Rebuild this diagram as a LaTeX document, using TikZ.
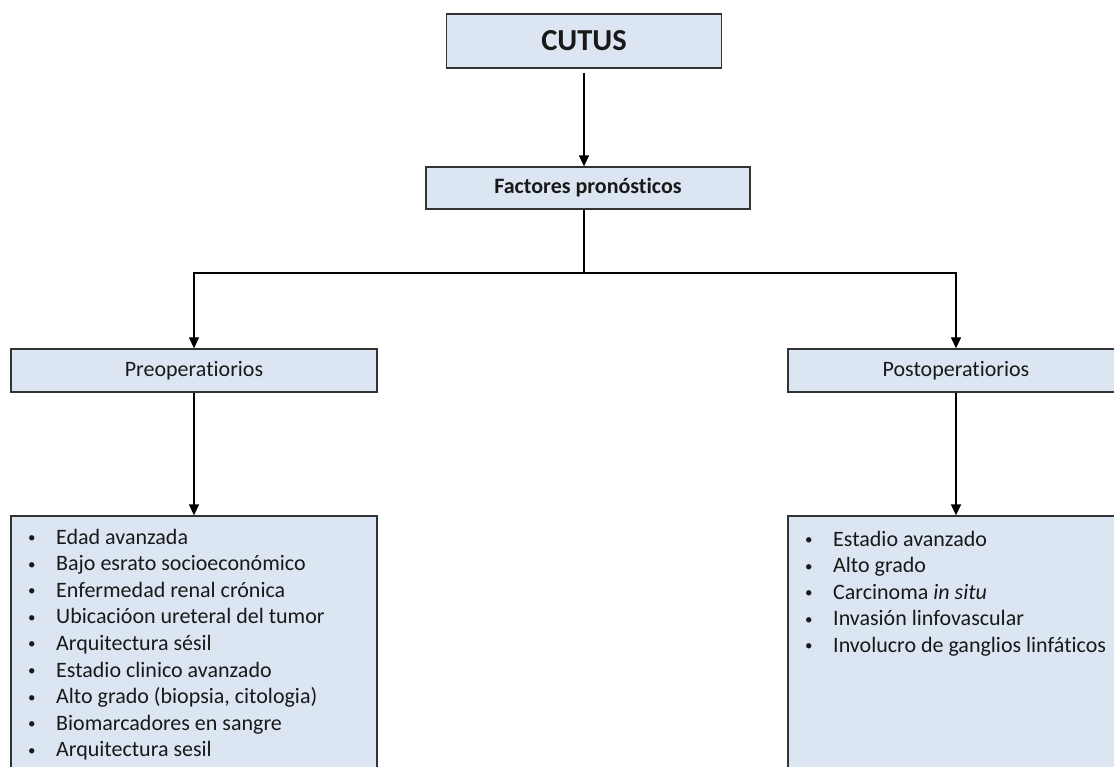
\documentclass[tikz,border=0pt]{standalone}
\usepackage{fontspec}
\setmainfont{Carlito}[Ligatures=NoCommon]
\usepackage{tikz}
\usetikzlibrary{arrows.meta,positioning}
\definecolor{boxfill}{HTML}{DCE6F2}
\definecolor{boxline}{HTML}{333333}
\newcommand{\itembullet}{\makebox[28pt][l]{\raisebox{1.5pt}{\fontsize{15}{15}\selectfont •}}}
\tikzset{box/.style={draw=boxline,line width=1.3pt,fill=boxfill,inner sep=0pt,text=black!90,font=\fontsize{22}{26}\selectfont},
	arr/.style={line width=1.3pt,-{Triangle[length=11pt,width=10pt]}},
	item/.style={anchor=base west,inner sep=0pt,text=black!90,font=\fontsize{22}{26}\selectfont}}

\begin{document}
\begin{tikzpicture}[x=1pt,y=-1pt]
		\useasboundingbox (0,0) rectangle (1114,767);
		\clip (0,0) rectangle (1114,767);
		
		\node[box,minimum width=275pt,minimum height=54pt,font=\bfseries\fontsize{30.5}{34}\selectfont] (cutus) at (584,41) {CUTUS};
		\node[box,minimum width=324pt,minimum height=42pt,font=\bfseries\fontsize{22}{26}\selectfont] (factores) at (588,188) {Factores pronósticos};
		
		\node[box,minimum width=366pt,minimum height=43pt] (preop) at (194,370.5) {Preoperatiorios};
		\node[box,minimum width=336pt,minimum height=43pt] (postop) at (956,370.5) {Postoperatiorios};
		
		\node[box,minimum width=366pt,minimum height=270pt] (prelist) at (194,651) {};
		\node[box,minimum width=336pt,minimum height=270pt] (postlist) at (956,651) {};
		
		\coordinate (split) at (584,273);
		
		\draw[arr,shorten <=4pt] (cutus.south) -- (cutus.south |- factores.north);
		\draw[line width=1.3pt] (cutus.south |- factores.south) -- (split);
		\draw[arr] (split) -| (preop.north);
		\draw[arr] (split) -| (postop.north);
		\draw[arr] (preop.south) -- (prelist.north);
		\draw[arr] (postop.south) -- (postlist.north);
		
		% preoperatorios
		\node[item] (pre1) at (28,544) {\itembullet Edad avanzada};
		\node[item] (pre2) at (28,570.6) {\itembullet Bajo esrato socioeconómico};
		\node[item] (pre3) at (28,597.2) {\itembullet Enfermedad renal crónica};
		\node[item] (pre4) at (28,623.8) {\itembullet Ubicacióon ureteral del tumor};
		\node[item] (pre5) at (28,650.4) {\itembullet Arquitectura sésil};
		\node[item] (pre6) at (28,677) {\itembullet Estadio clinico avanzado};
		\node[item] (pre7) at (28,703.6) {\itembullet Alto grado (biopsia, citologia)};
		\node[item] (pre8) at (28,730.2) {\itembullet Biomarcadores en sangre};
		\node[item] (pre9) at (28,756.8) {\itembullet Arquitectura sesil};
		
		% postoperatorios
		\node[item] (post1) at (805,546) {\itembullet Estadio avanzado};
		\node[item] (post2) at (805,572.5) {\itembullet Alto grado};
		\node[item] (post3) at (805,599) {\itembullet Carcinoma \textit{in situ}};
		\node[item] (post4) at (805,625.5) {\itembullet Invasión linfovascular};
		\node[item] (post5) at (805,652) {\itembullet Involucro de ganglios linfáticos};
		
	\end{tikzpicture}
\end{document}
